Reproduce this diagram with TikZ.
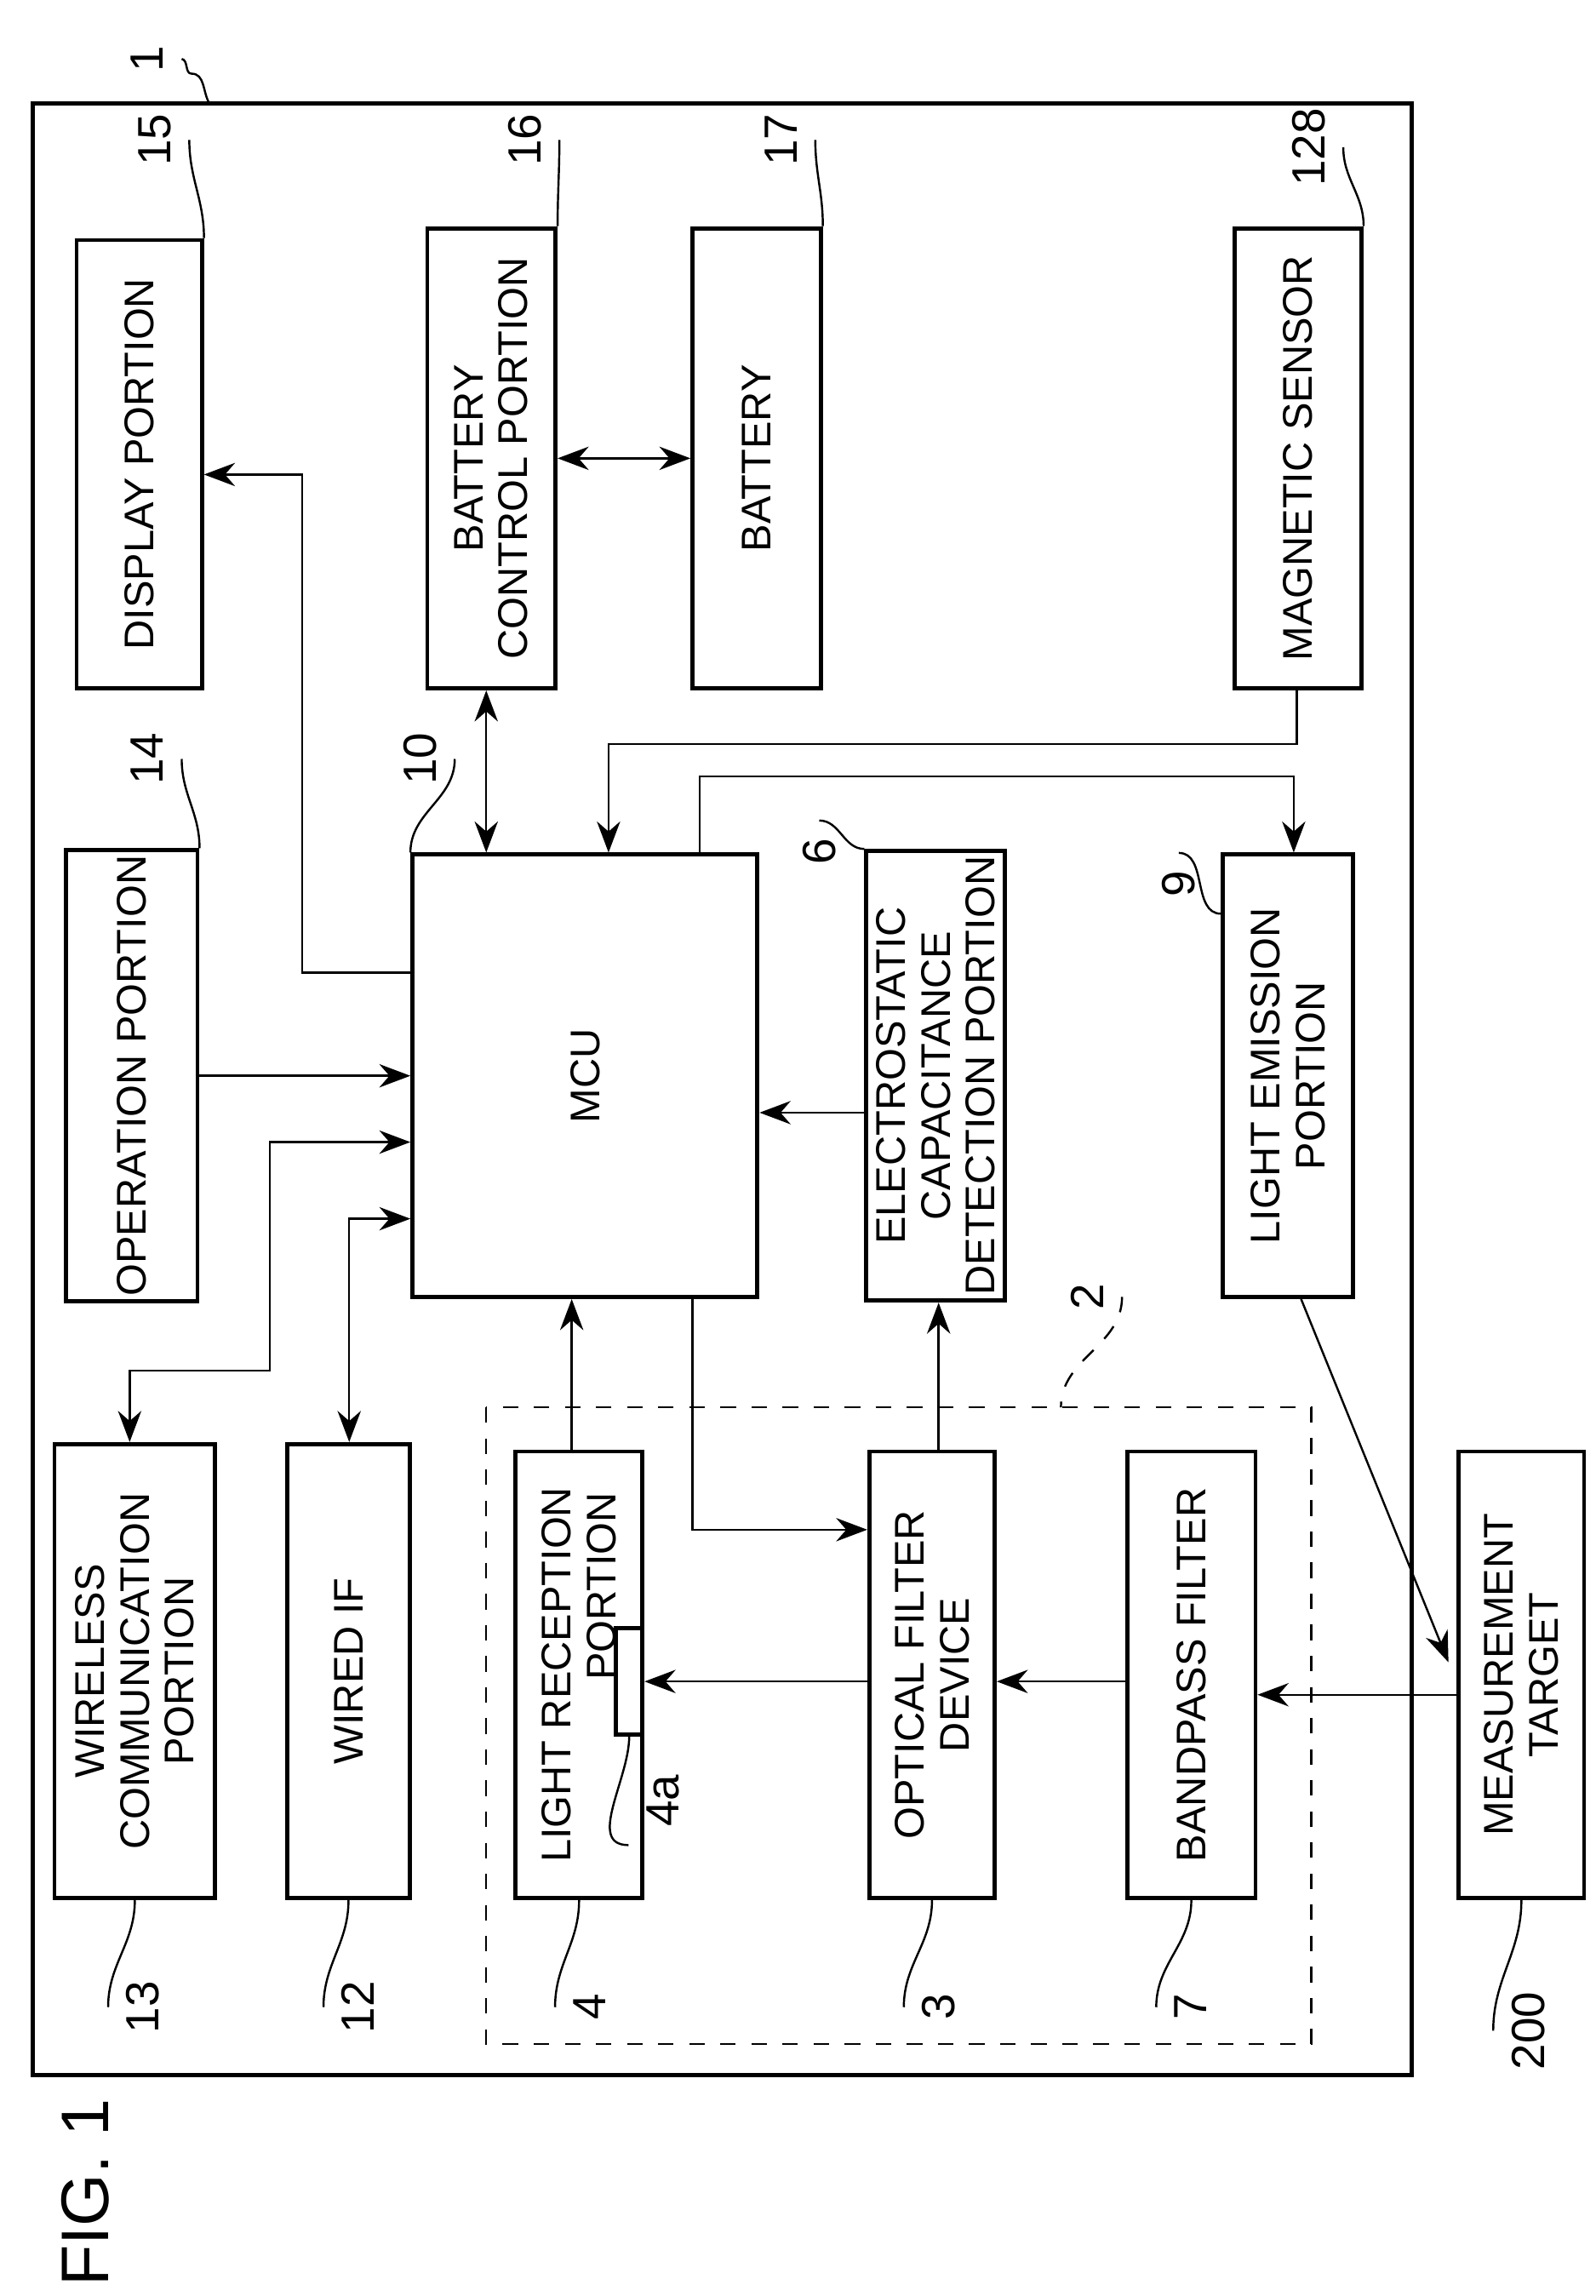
\documentclass[tikz,border=0pt]{standalone}
\usepackage{fontspec}
\setmainfont{Liberation Sans}
\usetikzlibrary{arrows.meta,positioning}
\tikzset{
  blk/.style={draw, thick, align=center, font=\fontsize{8}{9}\selectfont, inner sep=1pt},
  num/.style={rotate=90, font=\fontsize{9}{10}\selectfont},
  conn/.style={-{Stealth[length=6pt,width=4.5pt]}},
  both/.style={{Stealth[length=6pt,width=4.5pt]}-{Stealth[length=6pt,width=4.5pt]}},
  lead/.style={thin}
}
\begin{document}
\begin{tikzpicture}[x=0.01cm, y=-0.01cm]
  \useasboundingbox (0,0) rectangle (1083,1558);
  % frame
  \draw[thick] (22,70) rectangle (958,1408);
  \node[num] (l1) at (100,40) {1};
  \draw[lead] (l1.south) to[out=-10,in=180] (130,50) to[out=0,in=120] (22+120,70);

  % upper row
  \node[blk, minimum width=0.85cm, minimum height=3.04cm] (disp) at (94.5,315) {\rotatebox{90}{DISPLAY PORTION}};
  \node[blk, minimum width=0.87cm, minimum height=3.12cm] (bctl) at (333.5,311) {\rotatebox{90}{\shortstack{BATTERY\\CONTROL PORTION}}};
  \node[blk, minimum width=0.87cm, minimum height=3.12cm] (batt) at (513.5,311) {\rotatebox{90}{BATTERY}};
  \node[blk, minimum width=0.86cm, minimum height=3.12cm] (mag) at (881,311) {\rotatebox{90}{MAGNETIC SENSOR}};

  % middle row
  \node[blk, minimum width=0.89cm, minimum height=3.00cm] (oper) at (89.5,730) {\rotatebox{90}{OPERATION PORTION}};
  \node[blk, minimum width=2.34cm, minimum height=3.00cm] (mcu) at (397,730) {\rotatebox{90}{MCU}};
  \node[blk, minimum width=0.94cm, minimum height=3.00cm] (esd) at (635,730) {\rotatebox{90}{\shortstack{ELECTROSTATIC\\CAPACITANCE\\DETECTION PORTION}}};
  \node[blk, minimum width=0.88cm, minimum height=3.00cm] (emit) at (874,730) {\rotatebox{90}{\shortstack{LIGHT EMISSION\\PORTION}}};

  % lower row
  \draw[dashed] (330,955) rectangle (890,1387);
  \node[blk, minimum width=1.09cm, minimum height=3.08cm] (wless) at (91.5,1134) {\rotatebox{90}{\shortstack{WIRELESS\\COMMUNICATION\\PORTION}}};
  \node[blk, minimum width=0.83cm, minimum height=3.08cm] (wired) at (236.5,1134) {\rotatebox{90}{WIRED IF}};
  \node[blk, minimum width=0.86cm, minimum height=3.03cm] (recv) at (393,1136.5) {\rotatebox{90}{\shortstack{LIGHT RECEPTION\\\hspace{1.2cm}PORTION}}};
  \node[draw, thick, minimum width=0.18cm, minimum height=0.72cm, inner sep=0pt] (sens) at (427,1141) {};
  \node[blk, minimum width=0.85cm, minimum height=3.03cm] (ofd) at (632.5,1136.5) {\rotatebox{90}{\shortstack{OPTICAL FILTER\\DEVICE}}};
  \node[blk, minimum width=0.87cm, minimum height=3.03cm] (bpf) at (808.5,1136.5) {\rotatebox{90}{BANDPASS FILTER}};
  \node[blk, minimum width=0.85cm, minimum height=3.03cm] (targ) at (1032.5,1136.5) {\rotatebox{90}{\shortstack{MEASUREMENT\\TARGET}}};

  % reference numerals
  \node[num] (l15) at (105,95) {15};
  \node[num] (l16) at (356,95) {16};
  \node[num] (l17) at (530,95) {17};
  \node[num] (l128) at (888,100) {128};
  \node[num] (l14) at (100,515) {14};
  \node[num] (l10) at (285,515) {10};
  \node[num] (l6) at (556,578) {6};
  \node[num] (l9) at (800,600) {9};
  \node[num] (l2) at (738,880) {2};
  \node[num] (l13) at (97,1362) {13};
  \node[num] (l12) at (243,1362) {12};
  \node[num] (l4) at (400,1362) {4};
  \node[num] (l4a) at (450,1222) {4a};
  \node[num] (l3) at (637,1362) {3};
  \node[num] (l7) at (808,1362) {7};
  \node[num] (l200) at (1037,1378) {200};

  \draw[lead] (l15.south) to[out=-90,in=90] (disp.north east);
  \draw[lead] (l16.south) to[out=-90,in=90] (bctl.north east);
  \draw[lead] (l17.south) to[out=-90,in=90] (batt.north east);
  \draw[lead] (l128.south) to[out=-90,in=90] (mag.north east);
  \draw[lead] (l14.south) to[out=-90,in=90] (oper.north east);
  \draw[lead] (l10.south) to[out=-90,in=90] (mcu.north west);
  \draw[lead] (l6.east) to[out=0,in=180] (esd.north west);
  \draw[lead] (l9.east) to[out=0,in=180] (emit.west |- 0,620);
  \draw[lead, dashed] (l2.south) to[out=-90,in=90] (720,955);
  \draw[lead] (l13.north) to[out=90,in=-90] (wless.south);
  \draw[lead] (l12.north) to[out=90,in=-90] (wired.south);
  \draw[lead] (l4.north) to[out=90,in=-90] (recv.south);
  \draw[lead] (l4a.north west) to[out=180,in=-90] (sens.south);
  \draw[lead] (l3.north) to[out=90,in=-90] (ofd.south);
  \draw[lead] (l7.north) to[out=90,in=-90] (bpf.south);
  \draw[lead] (l200.north) to[out=90,in=-90] (targ.south);

  % connectors
  \draw[conn] (mcu.west |- 0,660) -- (205,660) -- (205,322) -- (disp.east |- 0,322);
  \draw[both] (mcu.north -| 330,0) -- (bctl.south -| 330,0);
  \draw[both] (bctl.east |- 0,311) -- (batt.west |- 0,311);
  \draw[conn] (mag.south -| 880,0) -- (880,505) -- (413,505) -- (mcu.north -| 413,0);
  \draw[conn] (mcu.north -| 475,0) -- (475,527) -- (878,527) -- (emit.north -| 878,0);
  \draw[conn] (oper.east |- 0,730) -- (mcu.west |- 0,730);
  \draw[both] (mcu.west |- 0,775) -- (183,775) -- (183,930) -- (88,930) -- (wless.north -| 88,0);
  \draw[both] (mcu.west |- 0,827) -- (237,827) -- (wired.north -| 237,0);
  \draw[conn] (esd.west |- 0,755) -- (mcu.east |- 0,755);
  \draw[conn] (recv.north -| 388,0) -- (mcu.south -| 388,0);
  \draw[conn] (mcu.south -| 470,0) -- (470,1038) -- (ofd.west |- 0,1038);
  \draw[conn] (ofd.north -| 637,0) -- (esd.south -| 637,0);
  \draw[conn] (ofd.west |- 0,1141) -- (sens.east);
  \draw[conn] (bpf.west |- 0,1141) -- (ofd.east |- 0,1141);
  \draw[conn, thin] (targ.west |- 0,1150) -- (bpf.east |- 0,1150);
  \draw[conn, thin] (emit.south -| 883,0) -- (983,1128);

  \node[rotate=90, font=\fontsize{13}{15}\selectfont] (fig) at (58,1488) {FIG. 1};
\end{tikzpicture}
\end{document}
